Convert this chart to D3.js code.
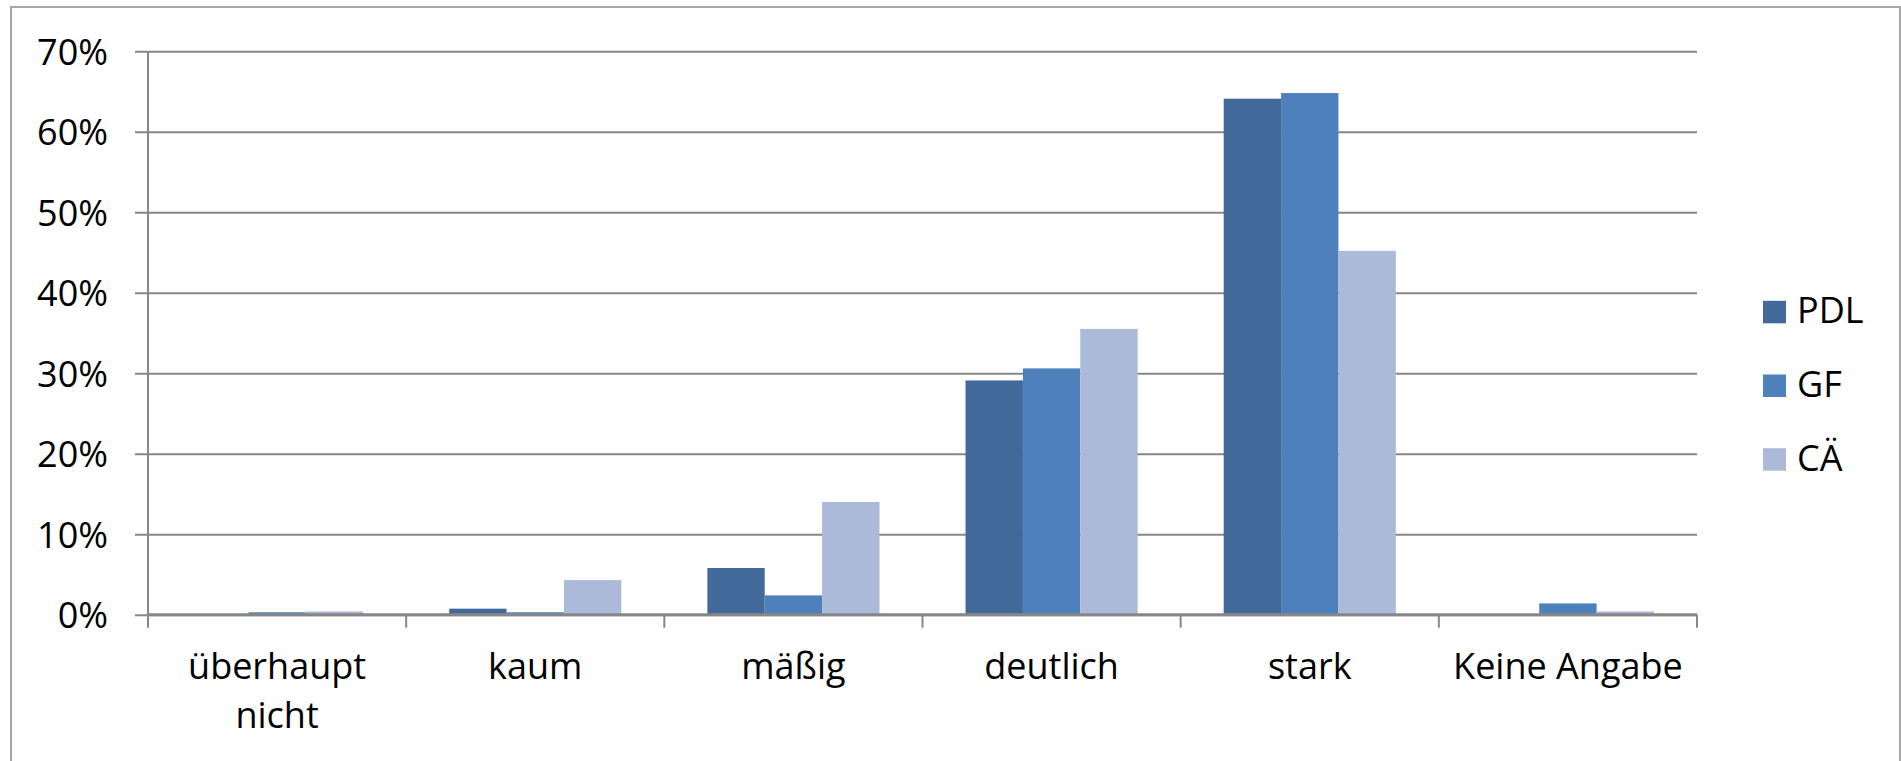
<!DOCTYPE html>
<html>
<head>
<meta charset="utf-8">
<script src="https://cdn.jsdelivr.net/npm/d3@7"></script>
<style>
  html, body { margin: 0; padding: 0; background: #fff; }
  svg { display: block; }
  text { font-family: "Open Sans", sans-serif; fill: #000; }
</style>
</head>
<body>
<svg id="chart" width="1901" height="761"></svg>
<script>
// ---- data ----
const categories = [["überhaupt", "nicht"], ["kaum"], ["mäßig"], ["deutlich"], ["stark"], ["Keine Angabe"]];
const seriesNames = ["PDL", "GF", "CÄ"];
const pdlValues = [0.0, 0.75, 5.8, 29.1, 64.1, 0.0];
const gfValues  = [0.3, 0.3, 2.4, 30.6, 64.8, 1.4];
const caeValues = [0.4, 4.3, 14.0, 35.5, 45.2, 0.4];
const yTicks = [0, 10, 20, 30, 40, 50, 60, 70];
const seriesColors = ["#41699a", "#4e80bc", "#abbad8"];

const seriesValues = [pdlValues, gfValues, caeValues];

(function () {
const svg = d3.select("#chart");

// outer frame
svg.append("rect")
  .attr("x", 11).attr("y", 7)
  .attr("width", 1889).attr("height", 800)
  .attr("fill", "none").attr("stroke", "#a6a6a6").attr("stroke-width", 2);

const plotLeft = 148, plotRight = 1697, plotTop = 51.2, plotBottom = 614.7;

const x0 = d3.scaleBand()
  .domain(d3.range(categories.length))
  .range([plotLeft, plotRight])
  .paddingInner(0).paddingOuter(0);

const x1 = d3.scaleBand()
  .domain(d3.range(seriesNames.length))
  .range([0, x0.bandwidth()])
  .paddingInner(0).paddingOuter(0.75);

const y = d3.scaleLinear().domain([0, 70]).range([plotBottom, plotTop]);

// gridlines + y ticks
const yAxis = d3.axisLeft(y)
  .tickValues(yTicks)
  .tickSize(-(plotRight - plotLeft))
  .tickSizeOuter(0)
  .tickPadding(27)
  .tickFormat(d => d + "%");

const gy = svg.append("g")
  .attr("transform", `translate(${plotLeft},0)`)
  .call(yAxis);
gy.select(".domain").remove();
gy.selectAll(".tick line")
  .attr("x1", -13)
  .attr("stroke", "#878787").attr("stroke-width", 2);
gy.selectAll(".tick text")
  .attr("x", -40)
  .attr("dy", "0.36em")
  .style("font-size", "36px")
  .style("font-family", "'Open Sans', sans-serif")
  .attr("fill", "#000");

// y axis vertical line
svg.append("line")
  .attr("x1", plotLeft).attr("x2", plotLeft)
  .attr("y1", plotTop).attr("y2", plotBottom)
  .attr("stroke", "#878787").attr("stroke-width", 2);

// bars
const groups = svg.append("g").selectAll("g")
  .data(categories.map((c, i) => i))
  .join("g")
  .attr("transform", i => `translate(${x0(i)},0)`);

groups.selectAll("rect")
  .data(i => seriesValues.map((vals, s) => ({ s, v: vals[i] })))
  .join("rect")
  .attr("x", d => x1(d.s))
  .attr("width", x1.bandwidth())
  .attr("y", d => y(d.v))
  .attr("height", d => y(0) - y(d.v))
  .attr("fill", d => seriesColors[d.s]);

// x axis line and ticks
const boundaries = d3.range(categories.length + 1).map(i => i === categories.length ? plotRight : x0(i));
svg.append("line")
  .attr("x1", plotLeft).attr("x2", plotRight)
  .attr("y1", plotBottom).attr("y2", plotBottom)
  .attr("stroke", "#878787").attr("stroke-width", 3);
svg.append("g").selectAll("line")
  .data(boundaries)
  .join("line")
  .attr("x1", d => d).attr("x2", d => d)
  .attr("y1", plotBottom).attr("y2", plotBottom + 13)
  .attr("stroke", "#878787").attr("stroke-width", 2);

// category labels
const labels = svg.append("g").selectAll("text")
  .data(categories.map((c, i) => ({ c, i })))
  .join("text")
  .attr("x", d => x0(d.i) + x0.bandwidth() / 2)
  .attr("y", 679)
  .attr("text-anchor", "middle")
  .style("font-size", "36px");
labels.selectAll("tspan")
  .data(d => d.c.map((line, k) => ({ line, k, x: x0(d.i) + x0.bandwidth() / 2 })))
  .join("tspan")
  .attr("x", d => d.x)
  .attr("dy", d => d.k === 0 ? 0 : 49)
  .text(d => d.line);

// legend
const legend = svg.append("g").selectAll("g")
  .data(seriesNames.map((n, s) => ({ n, s })))
  .join("g")
  .attr("transform", d => `translate(1763, ${323.3 + d.s * 73.7})`);
legend.append("rect")
  .attr("x", 0).attr("y", -22.5)
  .attr("width", 23).attr("height", 22.5)
  .attr("fill", d => seriesColors[d.s]);
legend.append("text")
  .attr("x", 34).attr("y", 0)
  .style("font-size", "36px")
  .text(d => d.n);
})();
</script>
</body>
</html>
